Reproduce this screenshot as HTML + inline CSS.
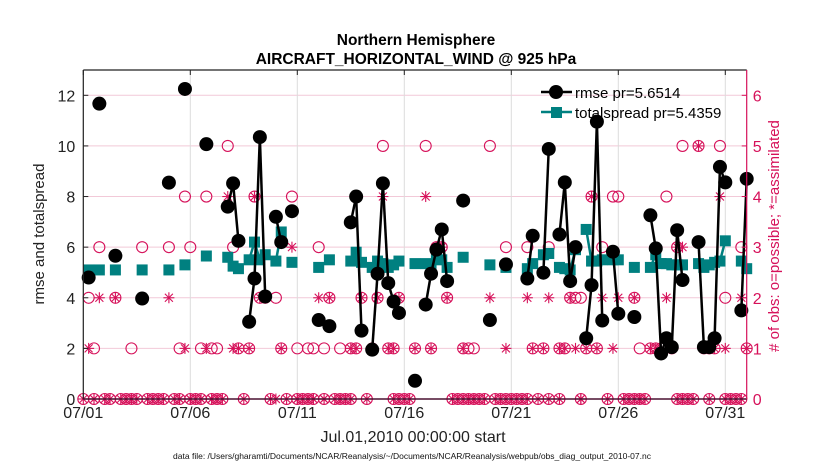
<!DOCTYPE html>
<html><head><meta charset="utf-8"><style>
body{margin:0;background:#fff;}
svg{display:block;font-family:"Liberation Sans",Arial,sans-serif;}
</style></head><body>
<svg id="chart" width="830" height="470" viewBox="0 0 830 470" xmlns="http://www.w3.org/2000/svg">
<rect width="830" height="470" fill="#fff"/>
<text x="416" y="45" text-anchor="middle" font-size="15.5" font-weight="bold">Northern Hemisphere</text>
<text x="416" y="64" text-anchor="middle" font-size="15.5" font-weight="bold">AIRCRAFT_HORIZONTAL_WIND @ 925 hPa</text>
<g id="grid"></g>
<g id="obs"></g>
<g id="series"></g>
<g id="axes"></g>
<text transform="translate(44,234) rotate(-90)" text-anchor="middle" font-size="15" fill="#222">rmse and totalspread</text>
<text transform="translate(779,236) rotate(-90)" text-anchor="middle" font-size="15" fill="#d6115a"># of obs: o=possible; *=assimilated</text>
<text x="413" y="442" text-anchor="middle" font-size="16" fill="#222">Jul.01,2010 00:00:00 start</text>
<text x="412" y="459" text-anchor="middle" font-size="8.5" fill="#111">data file: /Users/gharamti/Documents/NCAR/Reanalysis/~/Documents/NCAR/Reanalysis/webpub/obs_diag_output_2010-07.nc</text>
<g id="legend">
<line x1="541" y1="92" x2="572" y2="92" stroke="#000" stroke-width="2.5"/>
<circle cx="556" cy="92" r="7" fill="#000"/>
<text x="575" y="98" font-size="15">rmse pr=5.6514</text>
<line x1="541" y1="112" x2="572" y2="112" stroke="#008080" stroke-width="2.5"/>
<rect x="551" y="107" width="11" height="11" fill="#008080"/>
<text x="575" y="118" font-size="15">totalspread pr=5.4359</text>
</g>
</svg>
<script>
const rmseDays=[0.25,0.75,1.5,2.75,4.0,4.75,5.75,6.75,7.0,7.25,7.75,8.0,8.25,8.5,9.0,9.25,9.75,11.0,11.5,12.5,12.75,13.0,13.5,13.75,14.0,14.25,14.5,14.75,15.5,16.0,16.25,16.5,16.75,17.0,17.75,19.0,19.75,20.75,21.0,21.5,21.75,22.25,22.5,22.75,23.0,23.5,23.75,24.0,24.25,24.75,25.0,25.75,26.5,26.75,27.0,27.25,27.5,27.75,28.0,28.75,29.0,29.25,29.5,29.75,30.0,30.75,31.0];
const rmseValues=[4.8,11.67,5.66,3.97,8.55,12.25,10.07,7.6,8.52,6.25,3.05,4.76,10.35,4.05,7.2,6.2,7.42,3.12,2.88,6.98,8.0,2.7,1.95,4.95,8.52,4.58,3.85,3.4,0.72,3.73,4.95,5.9,6.7,4.66,7.84,3.12,5.32,4.76,6.45,4.99,9.88,6.5,8.56,4.66,6.0,2.4,4.5,10.96,3.1,5.82,3.37,3.24,7.26,5.95,1.8,2.4,2.05,6.67,4.7,6.2,2.05,2.05,2.4,9.17,8.56,3.5,8.7];
const spreadValues=[5.1,5.1,5.1,5.1,5.1,5.3,5.65,5.6,5.25,5.15,5.5,6.2,5.5,5.7,5.45,6.6,5.4,5.2,5.5,5.45,5.8,5.4,5.2,5.45,5.35,5.2,5.3,5.45,5.35,5.35,5.25,5.55,5.5,5.2,5.6,5.3,5.2,5.15,5.35,5.7,5.75,5.2,5.15,5.1,5.9,6.7,5.45,5.45,5.5,5.5,5.5,5.2,5.2,5.7,5.35,5.35,5.3,5.3,5.3,5.35,5.2,5.3,5.4,5.45,6.25,5.45,5.15];
const obsDays=[0.25,0.5,0.75,1.5,2.25,2.75,4.0,4.5,4.75,5.0,5.5,5.75,6.0,6.25,6.75,7.0,7.25,7.75,8.0,8.25,8.5,9.0,9.25,9.75,10.0,10.5,10.75,11.0,11.25,11.5,12.0,12.5,12.75,13.0,13.5,13.75,14.0,14.25,14.5,14.75,15.5,16.0,16.25,16.5,16.75,17.0,17.75,18.0,18.25,19.0,19.75,20.75,21.0,21.5,21.75,22.25,22.5,22.75,23.0,23.25,23.5,23.75,24.0,24.25,24.75,25.0,25.75,26.0,26.5,26.75,27.0,27.25,27.5,27.75,28.0,28.75,29.0,29.25,29.5,29.75,30.0,30.75,31.0];
const obsPossible=[2,1,3,2,1,3,3,1,4,3,1,4,1,1,5,3,1,1,4,2,2,2,1,4,1,1,1,3,1,2,1,1,1,2,1,2,5,1,1,2,1,5,1,3,3,2,1,1,1,5,3,3,1,1,3,1,1,2,2,2,1,4,1,3,4,4,2,1,1,1,1,4,1,3,5,5,1,1,1,5,2,3,1];
const obsAssim=[1,0,2,2,0,2,2,0,1,0,0,1,0,0,4,1,1,1,4,2,2,0,1,3,0,0,0,2,0,2,0,1,1,2,1,2,4,1,1,2,1,4,1,3,3,2,1,0,0,2,1,2,1,1,2,1,1,2,1,0,1,4,1,2,1,2,2,0,1,1,1,2,1,3,3,5,1,1,1,4,1,2,1];
const zeroDays=[0,0.5,1,1.25,1.75,2,2.25,2.5,3,3.25,3.5,3.75,4.25,4.5,5,5.25,5.5,6,6.25,6.5,7.5,8.75,9.5,10,10.25,10.5,10.75,11.25,11.75,12,12.25,12.5,13.25,14.5,14.75,15,15.25,17.25,17.5,17.75,18,18.25,18.5,18.75,19.25,19.5,19.75,20,20.25,20.5,20.75,21.25,21.75,22.25,23.25,24.5,25.25,25.5,25.75,26,26.25,27.75,28,28.25,28.5,29.25,30,30.25,30.5,30.75];
const xTickDays=[0,5,10,15,20,25,30];
const xTickLabels=["07/01","07/06","07/11","07/16","07/21","07/26","07/31"];
const yTicks=[0,2,4,6,8,10,12];
const y2Ticks=[0,1,2,3,4,5,6];

const L=83.3,R=746.7,T=70,B=399;
const X=d=>L+(d/31)*(R-L);
const Y=v=>B-(v/13)*(B-T);
const Y2=v=>B-(v/6.5)*(B-T);
const NS="http://www.w3.org/2000/svg";
const MAG="#d6115a";
function mk(tag,attrs,parent){const e=document.createElementNS(NS,tag);for(const k in attrs)e.setAttribute(k,attrs[k]);parent.appendChild(e);return e;}
const grid=document.getElementById('grid'),axes=document.getElementById('axes'),obs=document.getElementById('obs'),series=document.getElementById('series');

yTicks.forEach(v=>{
  const l=mk('line',{x1:L,x2:R,y1:Y(v),y2:Y(v),stroke:'#f2c9d8','stroke-width':1},grid);
  
  
  const t=mk('text',{x:L-8,y:Y(v)+6,'text-anchor':'end','font-size':16,fill:'#222'},axes);
  t.textContent=v;
  
  
  mk('line',{x1:L,x2:L+5,y1:Y(v),y2:Y(v),stroke:'#222'},axes);
});
xTickDays.forEach((d,i)=>{
  const l=mk('line',{x1:X(d),x2:X(d),y1:T,y2:B,stroke:'#dcdcdc','stroke-width':1},grid);
  
  
  mk('line',{x1:X(d),x2:X(d),y1:T,y2:T+5,stroke:'#222'},axes);
  const t=mk('text',{x:X(d),y:418,'text-anchor':'middle','font-size':16,fill:'#222'},axes);
  t.textContent=xTickLabels[i];
  
  
});
y2Ticks.forEach(v=>{
  mk('line',{x1:R-5,x2:R,y1:Y2(v),y2:Y2(v),stroke:MAG},axes);
  const t=mk('text',{x:R+6,y:Y2(v)+6,'font-size':16,fill:MAG},axes);
  t.textContent=v;
  
  
});
mk('line',{x1:L,x2:R,y1:T,y2:T,stroke:'#222','stroke-width':1.2},axes);
mk('line',{x1:L,x2:L,y1:T,y2:B,stroke:'#222','stroke-width':1.2},axes);
mk('line',{x1:L,x2:R,y1:B,y2:B,stroke:'#4a1030','stroke-width':1.5},axes);
mk('line',{x1:R,x2:R,y1:T,y2:B,stroke:MAG,'stroke-width':1.2},axes);

function circ(d,v){const c=mk('circle',{cx:X(d),cy:Y2(v),r:5.5,fill:'none',stroke:MAG,'stroke-width':1.1},obs);
  
  }
function star(d,v){const g=mk('g',{transform:`translate(${X(d)},${Y2(v)})`,stroke:MAG,'stroke-width':1.1},obs);
  
  
  mk('line',{x1:-5.5,x2:5.5,y1:0,y2:0},g);mk('line',{x1:0,x2:0,y1:-5.5,y2:5.5},g);
  mk('line',{x1:-4,x2:4,y1:-4,y2:4},g);mk('line',{x1:-4,x2:4,y1:4,y2:-4},g);}
zeroDays.forEach(d=>{circ(d,0);star(d,0);});
obsDays.forEach((d,i)=>{circ(d,obsPossible[i]);star(d,obsAssim[i]);});

function drawLine(vals,color,name){
  for(let i=1;i<rmseDays.length;i++){
    if(rmseDays[i]-rmseDays[i-1]<=0.26){
      const l=mk('line',{x1:X(rmseDays[i-1]),y1:Y(vals[i-1]),x2:X(rmseDays[i]),y2:Y(vals[i]),stroke:color,'stroke-width':2.5},series);
      
      
    }
  }
}
drawLine(spreadValues,'#008080','totalspread');
spreadValues.forEach((v,i)=>{
  const r=mk('rect',{x:X(rmseDays[i])-5.5,y:Y(v)-5.5,width:11,height:11,fill:'#008080'},series);
  
  
});
drawLine(rmseValues,'#000','rmse');
rmseValues.forEach((v,i)=>{
  const c=mk('circle',{cx:X(rmseDays[i]),cy:Y(v),r:7,fill:'#000'},series);
  
  
});
</script>
</body></html>
